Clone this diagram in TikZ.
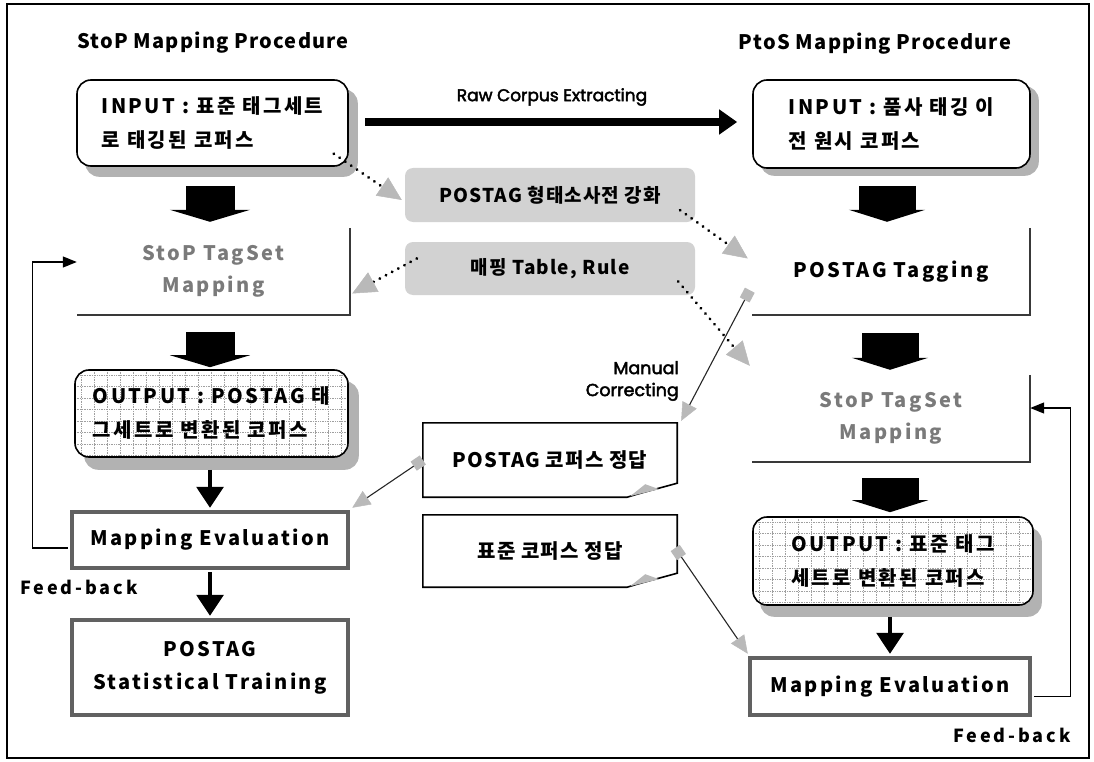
\documentclass[tikz,border=0pt]{standalone}
\usepackage{fontspec}
\setmainfont{Noto Sans CJK KR}
\newfontfamily\krw{Noto Sans CJK KR}[LetterSpace=12]
\newfontfamily\krm{Noto Sans CJK KR}[LetterSpace=6]
\newfontfamily\krf{Noto Sans CJK KR}[LetterSpace=16]
\newfontfamily\geo{Poppins}[FakeBold=2.5]
\usetikzlibrary{arrows.meta,calc,backgrounds}
\tikzset{
  boxfont/.style={font=\krw\bfseries\fontsize{20}{34}\selectfont},
  title/.style={font=\krm\bfseries\fontsize{20}{24}\selectfont, inner sep=0pt},
  inbox/.style={boxfont, rectangle, rounded corners=14pt, draw=black, line width=1.6pt, fill=white, align=left},
  shadowc/.style={fill=gray!60, rounded corners=14pt},
  gridl/.style={draw=gray!75, line width=0.7pt, densely dotted},
  outbox/.style={inbox, path picture={
      \foreach \k in {0,...,22} \draw[gridl] ([xshift=\k*13pt+6pt]path picture bounding box.north west) -- ([xshift=\k*13pt+6pt]path picture bounding box.south west);
      \foreach \k in {0,...,8} \draw[gridl] ([yshift=-\k*11.5pt-5pt]path picture bounding box.north west) -- ([yshift=-\k*11.5pt-5pt]path picture bounding box.north east);
    }},
  openbox/.style={boxfont, font=\krw\bfseries\fontsize{20}{32}\selectfont, rectangle, align=center, minimum width=278pt, minimum height=87pt},
  hollow/.style={text=black!52},
  openedge/.style={draw=gray!45!black, line width=1.6pt},
  evalbox/.style={boxfont, rectangle, draw=black!62, line width=4.5pt, fill=white, align=center, font=\krw\bfseries\fontsize{20}{33}\selectfont},
  midbox/.style={rectangle, rounded corners=8pt, fill=gray!35, minimum width=290pt, font=\krm\bfseries\fontsize{19}{24}\selectfont},
  notebox/.style={rectangle, minimum width=254pt, font=\krm\bfseries\fontsize{20}{24}\selectfont},
  noteedge/.style={draw=black, line width=1.6pt},
  fold/.style={fill=gray!55},
  fatL/.style={draw=black, line width=49pt, -{Triangle[width=80pt,length=12pt]}},
  fatR/.style={draw=black, line width=57pt, -{Triangle[width=76pt,length=12pt]}},
  thinarr/.style={draw=black, line width=3.2pt, -{Triangle[width=27pt,length=21pt]}},
  rawarr/.style={draw=black, line width=8pt, -{Triangle[width=24pt,length=18pt]}},
  fb/.style={draw=black, line width=1.3pt, -{Triangle[width=11pt,length=14pt]}},
  dotarr/.style={draw=black, line width=3.2pt, line cap=round, dash pattern=on 0.01pt off 7pt,
    -{Triangle[width=22pt,length=24pt,color=gray!55,fill=gray!55,line width=0.5pt]}},
  mline/.style={draw=gray!30!black, line width=1.1pt,
    {Square[length=11pt,width=11pt,color=gray!55,fill=gray!55]}-{Triangle[width=16pt,length=18pt,color=gray!55,fill=gray!55,line width=0.5pt]}},
  geolab/.style={font=\geo\fontsize{17}{22}\selectfont, inner sep=0pt},
  fblab/.style={font=\krf\bfseries\fontsize{18}{22}\selectfont, inner sep=0pt},
}
\begin{document}
\begin{tikzpicture}[x=1pt,y=-1pt]
\useasboundingbox (0,0) rectangle (1094,762);
\draw[line width=1.5pt] (7,4) rectangle (1089,758);

% titles
\node[title] (t1) at (213,43) {StoP Mapping Procedure};
\node[title] (t2) at (875,44) {PtoS Mapping Procedure};

% left column
\node[inbox, minimum width=271pt, minimum height=86pt] (in1) at (212.5,123) {INPUT : 표준 태그세트\\로 태깅된 코퍼스};
\node[openbox, hollow, minimum width=273pt] (map1) at (213.5,271.5) {StoP TagSet\\Mapping};
\draw[openedge] (map1.north east) -- (map1.south east) -- (map1.south west);
\node[outbox, minimum width=273pt, minimum height=87pt] (out1) at (211.5,413.5) {OUTPUT : POSTAG 태\\그세트로 변환된 코퍼스};
\node[evalbox, minimum width=276pt, minimum height=56pt] (eval1) at (210,540) {Mapping Evaluation};
\node[evalbox, minimum width=276pt, minimum height=95pt] (train1) at (210,667.5) {POSTAG\\Statistical Training};

% right column
\node[inbox, minimum width=277pt, minimum height=88pt] (in2) at (891.5,124) {INPUT : 품사 태깅 이\\전 원시 코퍼스};
\node[openbox] (tag2) at (891,271.5) {POSTAG Tagging};
\draw[openedge] (tag2.north east) -- (tag2.south east) -- (tag2.south west);
\node[openbox, hollow] (map2) at (891,418.5) {StoP TagSet\\Mapping};
\draw[openedge] (map2.north east) -- (map2.south east) -- (map2.south west);
\node[outbox, minimum width=280pt, minimum height=88pt] (out2) at (893,561) {OUTPUT : 표준 태그\\세트로 변환된 코퍼스};
\node[evalbox, minimum width=280pt, minimum height=57pt] (eval2) at (890,686.5) {Mapping Evaluation};

% shadows
\begin{scope}[on background layer]
\fill[shadowc] ($(in1.north west)+(9,10)$) rectangle ($(in1.south east)+(9,10)$);
\fill[shadowc] ($(in2.north west)+(8,7)$) rectangle ($(in2.south east)+(8,7)$);
\fill[shadowc] ($(out1.north west)+(10,12)$) rectangle ($(out1.south east)+(10,12)$);
\fill[shadowc] ($(out2.north west)+(8,11)$) rectangle ($(out2.south east)+(8,11)$);
\end{scope}

% middle
\node[midbox, minimum height=54pt] (mid1) at (550,195) {POSTAG 형태소사전 강화};
\node[midbox, minimum height=53pt] (mid2) at (550,268.5) {매핑 Table, Rule};

\node[notebox, minimum height=74pt] (note1) at (550,460) {POSTAG 코퍼스 정답};
\draw[noteedge] (note1.north west) -- (note1.north east) -- ($(note1.south east)+(0,-14)$)
  .. controls ($(note1.south east)+(-18,-9)$) and ($(note1.south east)+(-34,-5)$) .. ($(note1.south east)+(-50,0)$)
  -- (note1.south west) -- cycle;
\fill[fold] ($(note1.south east)+(-47,-1)$) -- ($(note1.south east)+(-32,-13)$) -- ($(note1.south east)+(-18,-8)$) -- cycle;

\node[notebox, minimum height=72pt] (note2) at (550,551) {표준 코퍼스 정답};
\draw[noteedge] (note2.north west) -- (note2.north east) -- ($(note2.south east)+(0,-14)$)
  .. controls ($(note2.south east)+(-18,-9)$) and ($(note2.south east)+(-34,-5)$) .. ($(note2.south east)+(-50,0)$)
  -- (note2.south west) -- cycle;
\fill[fold] ($(note2.south east)+(-47,-1)$) -- ($(note2.south east)+(-32,-13)$) -- ($(note2.south east)+(-18,-8)$) -- cycle;

% fat arrows
\draw[fatL] ($(in1.south)+(-2.5,19)$) -- ($(map1.north)+(-3.5,-6)$);
\draw[fatL] ($(map1.south)+(-3.5,17)$) -- ($(out1.north)+(-1.5,-2)$);
\draw[fatR] ($(in2.south)+(-4.5,17)$) -- ($(tag2.north)+(-4,-6)$);
\draw[fatR] ($(tag2.south)+(-1,18)$) -- ($(map2.north)+(-1,-5)$);
\draw[fatR] ($(map2.south)+(-1,16)$) -- ($(out2.north)+(-3,-4)$);

% thin arrows
\draw[thinarr] ($(out1.south)+(-1.5,12)$) -- ($(eval1.north)+(0,-2)$);
\draw[thinarr] ($(eval1.south)+(0,2)$) -- ($(train1.north)+(0,-2)$);
\draw[thinarr] ($(out2.south)+(-3,11)$) -- ($(eval2.north)+(0,-2)$);

% raw corpus extracting
\draw[rawarr] ($(in1.east)+(16.5,-1)$) -- ($(in2.west)+(-15,-2)$);
\node[geolab] (lraw) at (552,97) {Raw Corpus Extracting};

% dotted arrows
\draw[dotarr] ($(in1.south east)+(-15,-13)$) -- ($(mid1.west)+(-3,5)$);
\draw[dotarr] ($(mid1.south east)+(-15,-12)$) -- ($(tag2.west)+(-4,-13)$);
\draw[dotarr] ($(mid2.west)+(12,-10)$) -- ($(map1.east)+(2,22)$);
\draw[dotarr] ($(mid2.east)+(-17,13)$) -- ($(map2.north west)+(-2,-9)$);

% marker lines
\draw[mline] ($(tag2.south west)+(-2,-25)$) -- ($(note1.north east)+(4,-2)$);
\node[geolab, font=\geo\fontsize{17.5}{22}\selectfont, align=right, anchor=east] (lman) at (679,381) {Manual\\Correcting};
\draw[mline] (note1.west) -- ($(eval1.north east)+(2,-2)$);
\draw[mline] ($(note2.east)+(-2,-3)$) -- ($(eval2.north west)+(0,-2)$);

% feedback loops
\draw[fb] ($(eval1.west)+(-2,8)$) -- ++(-35,0) |- ($(map1.west)+(0,-9.5)$);
\draw[fb] ($(eval2.east)+(2,10)$) -- ++(36,0) |- ($(map2.east)+(0,-10.5)$);
\node[fblab] (lfb1) at (79,587) {Feed-back};
\node[fblab] (lfb2) at (1012,735) {Feed-back};
\end{tikzpicture}
\end{document}
